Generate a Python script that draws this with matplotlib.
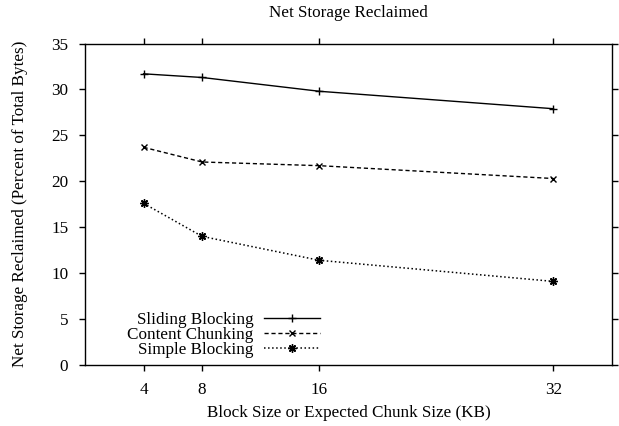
import matplotlib
matplotlib.use("Agg")
import matplotlib.pyplot as plt

# data
block_sizes = [4, 8, 16, 32]
sliding = [31.7, 31.3, 29.8, 27.9]
content = [23.7, 22.1, 21.7, 20.3]
simple = [17.6, 14.0, 11.4, 9.1]
series_names = ["Sliding Blocking", "Content Chunking", "Simple Blocking"]
y_ticks = [0, 5, 10, 15, 20, 25, 30, 35]

plt.rcParams['font.family'] = ['Liberation Serif', 'DejaVu Serif']
plt.rcParams['font.size'] = 12.3

fig = plt.figure(figsize=(6.19, 4.26), dpi=100)
ax = fig.add_axes([85 / 619, 1 - 365 / 426, (612 - 85) / 619, (365 - 43.5) / 426])

ax.plot(block_sizes, sliding, 'k-', lw=1, marker='+', ms=6, mew=1, label=series_names[0])
ax.plot(block_sizes, content, 'k--', lw=1, dashes=(3, 2), marker='x', ms=5, mew=1,
        label=series_names[1])
ax.plot(block_sizes, simple, 'k:', lw=1.1, marker=(8, 2, 0), ms=6, mew=1,
        label=series_names[2])

ax.set_xlim(0, 36)
ax.set_ylim(0, 35)
ax.set_xticks(block_sizes)
ax.set_yticks(y_ticks)
ax.tick_params(direction='out', length=4.5, width=1, top=True, right=True,
               labeltop=False, labelright=False)
ax.tick_params(axis='x', pad=8)
ax.tick_params(axis='y', pad=7.5)
for s in ax.spines.values():
    s.set_linewidth(1)

fig.text((85 + 612) / 2 / 619, 1 - 13 / 426, 'Net Storage Reclaimed',
         ha='center', va='center')
fig.text((85 + 612) / 2 / 619, 1 - 413 / 426, 'Block Size or Expected Chunk Size (KB)',
         ha='center', va='center')
fig.text(20 / 619, 1 - 204 / 426, 'Net Storage Reclaimed (Percent of Total Bytes)',
         ha='center', va='center', rotation=90)

leg = ax.legend(loc='lower right', bbox_to_anchor=(320 / 619, 1 - 358 / 426),
                bbox_transform=fig.transFigure, frameon=False,
                markerfirst=False, handlelength=3.3, handletextpad=0.6,
                labelspacing=-0.07, borderaxespad=0, borderpad=0)
# right-align legend labels
for vp in leg._legend_box.get_children()[1].get_children():
    for c in vp.get_children():
        c.align = "right"
leg._legend_box.get_children()[1].align = "right"

fig.savefig('out.png', dpi=100)
